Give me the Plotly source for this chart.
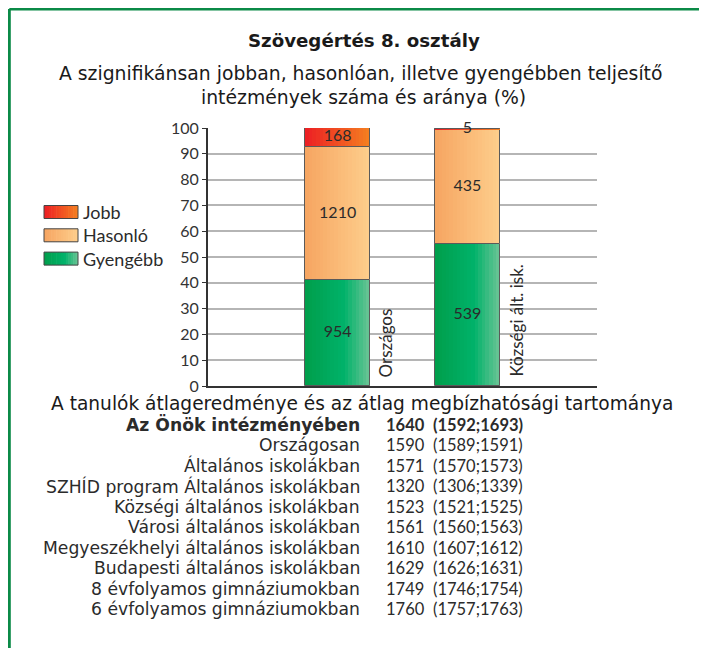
import plotly.graph_objects as go

# ---------------- data ----------------
categories = ["Országos", "Községi ált. isk."]
series_names = ["Gyengébb", "Hasonló", "Jobb"]
gyengebb = [954, 539]
hasonlo = [1210, 435]
jobb = [168, 5]

y_ticks = [0, 10, 20, 30, 40, 50, 60, 70, 80, 90, 100]

table_labels = ["Az Önök intézményében", "Országosan", "Általános iskolákban",
                "SZHÍD program Általános iskolákban", "Községi általános iskolákban",
                "Városi általános iskolákban", "Megyeszékhelyi általános iskolákban",
                "Budapesti általános iskolákban", "8 évfolyamos gimnáziumokban",
                "6 évfolyamos gimnáziumokban"]
table_mean = [1640, 1590, 1571, 1320, 1523, 1561, 1610, 1629, 1749, 1760]
table_low = [1592, 1589, 1570, 1306, 1521, 1560, 1607, 1626, 1746, 1757]
table_high = [1693, 1591, 1573, 1339, 1525, 1563, 1612, 1631, 1754, 1763]

# ---------------- styling ----------------
FONT = "Lato"
TFONT = "DejaVu Sans"
TXT = "#2b2b2b"
OFF = 8                      # page body margin of the browser
W, H = 707 - OFF, 648 - OFF
L, R, T, B = 208, 597, 128, 386   # plot area in screen pixels

gradients = {
    "Jobb": [(0, (236, 30, 36)), (1, (245, 128, 32))],
    "Hasonló": [(0, (246, 165, 97)), (1, (254, 206, 140))],
    "Gyengébb": [(0, (0, 158, 75)), (0.6, (0, 178, 106)), (1, (108, 196, 150))],
}


def grad_color(stops, t):
    for (t0, c0), (t1, c1) in zip(stops[:-1], stops[1:]):
        if t0 <= t <= t1:
            f = (t - t0) / (t1 - t0) if t1 > t0 else 0
            c = [round(a + (b - a) * f) for a, b in zip(c0, c1)]
            return "rgb(%d,%d,%d)" % tuple(c)
    return "rgb(%d,%d,%d)" % stops[-1][1]


def px(x):
    return (x - L) / (R - L)


def py(y):
    return (B - y) / (B - T)


x_pos = [i + 1 for i in range(len(categories))]
counts = {"Gyengébb": gyengebb, "Hasonló": hasonlo, "Jobb": jobb}
totals = [sum(v) for v in zip(gyengebb, hasonlo, jobb)]

fig = go.Figure()
BAR_W = 0.5
N = 18
cum = [0.0] * len(categories)
for name in series_names:
    vals = counts[name]
    pct = [v / t * 100 for v, t in zip(vals, totals)]
    stops = gradients[name]
    for k in range(N):
        sw = BAR_W / N
        fig.add_trace(go.Bar(
            x=x_pos, y=pct, base=cum,
            width=sw * (1.35 if k < N - 1 else 1.0),
            offset=-BAR_W / 2 + k * sw,
            marker=dict(color=grad_color(stops, (k + 0.5) / N), line=dict(width=0)),
            showlegend=False, hoverinfo="skip",
        ))
    fig.add_trace(go.Bar(
        x=x_pos, y=pct, base=cum, width=BAR_W, name=name,
        marker=dict(color="rgba(0,0,0,0)", line=dict(color="#5a5a5a", width=1)),
        showlegend=False,
    ))
    # value labels at segment middles
    fig.add_trace(go.Scatter(
        x=x_pos, y=[c + p / 2 for c, p in zip(cum, pct)], mode="text",
        text=[str(v) for v in vals], textposition="middle center",
        textfont=dict(family=FONT, size=16, color=TXT), cliponaxis=False,
        showlegend=False, hoverinfo="skip",
    ))
    cum = [c + p for c, p in zip(cum, pct)]

shapes = []
# frame
shapes.append(dict(type="line", xref="paper", yref="paper", x0=px(9.3), x1=px(740), y0=py(9), y1=py(9),
                   line=dict(color="#0b8a47", width=3)))
shapes.append(dict(type="line", xref="paper", yref="paper", x0=px(9.3), x1=px(9.3), y0=py(9), y1=py(700),
                   line=dict(color="#0b8a47", width=3)))

annotations = []
# legend (custom, gradient swatches)
legend_items = ["Jobb", "Hasonló", "Gyengébb"]
for i, name in enumerate(legend_items):
    yc = 212 + i * 23.3
    x0, x1 = 44, 78
    n = 14
    for k in range(n):
        a = x0 + (x1 - x0) * k / n
        b = x0 + (x1 - x0) * (k + 1) / n + 0.6
        shapes.append(dict(type="rect", xref="paper", yref="paper", x0=px(a), x1=px(min(b, x1)),
                           y0=py(yc - 6.5), y1=py(yc + 6.5), line=dict(width=0),
                           fillcolor=grad_color(gradients[name], (k + 0.5) / n)))
    shapes.append(dict(type="rect", xref="paper", yref="paper", x0=px(x0), x1=px(x1),
                       y0=py(yc - 6.5), y1=py(yc + 6.5), line=dict(color="#444", width=1)))
    annotations.append(dict(x=px(81), y=py(yc), xref="paper", yref="paper", text=name,
                            showarrow=False, xanchor="left", yanchor="middle",
                            font=dict(family=FONT, size=18, color=TXT)))

# category labels (rotated, right of bars)
for xp, cat in zip(x_pos, categories):
    annotations.append(dict(x=xp + 0.372, y=py(379), xref="x", yref="paper", text=cat,
                            textangle=-90, showarrow=False, xanchor="center", yanchor="bottom",
                            font=dict(family=FONT, size=17, color=TXT)))

# titles
annotations.append(dict(x=px(364), y=py(40), xref="paper", yref="paper",
                        text="<b>Szövegértés 8. osztály</b>", showarrow=False,
                        xanchor="center", yanchor="middle", font=dict(family=TFONT, size=18.2, color="#1a1a1a")))
annotations.append(dict(x=px(360), y=py(73), xref="paper", yref="paper",
                        text="A szignifikánsan jobban, hasonlóan, illetve gyengébben teljesítő",
                        showarrow=False, xanchor="center", yanchor="middle",
                        font=dict(family=TFONT, size=18.8, color="#1a1a1a")))
annotations.append(dict(x=px(363), y=py(97), xref="paper", yref="paper",
                        text="intézmények száma és aránya (%)",
                        showarrow=False, xanchor="center", yanchor="middle",
                        font=dict(family=TFONT, size=18.8, color="#1a1a1a")))
annotations.append(dict(x=px(362), y=py(403.5), xref="paper", yref="paper",
                        text="A tanulók átlageredménye és az átlag megbízhatósági tartománya",
                        showarrow=False, xanchor="center", yanchor="middle",
                        font=dict(family=TFONT, size=18.6, color="#1a1a1a")))

# table rows
for i, (lab, m, lo, hi) in enumerate(zip(table_labels, table_mean, table_low, table_high)):
    yc = 424.5 + i * 20.5
    b0, b1 = ("<b>", "</b>") if i == 0 else ("", "")
    f = dict(family=TFONT, size=17.2, color=TXT)
    fn = dict(family=FONT, size=16.5, color=TXT)
    annotations.append(dict(x=px(362), y=py(yc), xref="paper", yref="paper", text=b0 + lab + b1,
                            showarrow=False, xanchor="right", yanchor="middle", font=f))
    annotations.append(dict(x=px(384), y=py(yc), xref="paper", yref="paper", text=b0 + str(m) + b1,
                            showarrow=False, xanchor="left", yanchor="middle", font=fn))
    annotations.append(dict(x=px(431), y=py(yc), xref="paper", yref="paper",
                            text=b0 + "(%d;%d)" % (lo, hi) + b1,
                            showarrow=False, xanchor="left", yanchor="middle", font=fn))

fig.update_layout(
    width=W, height=H,
    margin=dict(l=L - OFF, r=W - (R - OFF), t=T - OFF, b=H - (B - OFF), pad=0),
    barmode="overlay", bargap=0,
    plot_bgcolor="white", paper_bgcolor="white",
    showlegend=False,
    shapes=shapes, annotations=annotations,
    xaxis=dict(range=[0, 3], showgrid=False, zeroline=False, showticklabels=False,
               ticks="", showline=True, linecolor="#333", linewidth=2, fixedrange=True),
    yaxis=dict(range=[0, 100], tickvals=y_ticks, ticktext=[str(v) for v in y_ticks],
               showgrid=True, gridcolor="#b5b5b5", gridwidth=1.5, zeroline=False,
               showline=True, linecolor="#333", linewidth=2, ticks="outside", ticklen=4,
               tickcolor="#333", tickfont=dict(family=FONT, size=16, color="#333"), fixedrange=True),
)

fig.write_html("out.html")
